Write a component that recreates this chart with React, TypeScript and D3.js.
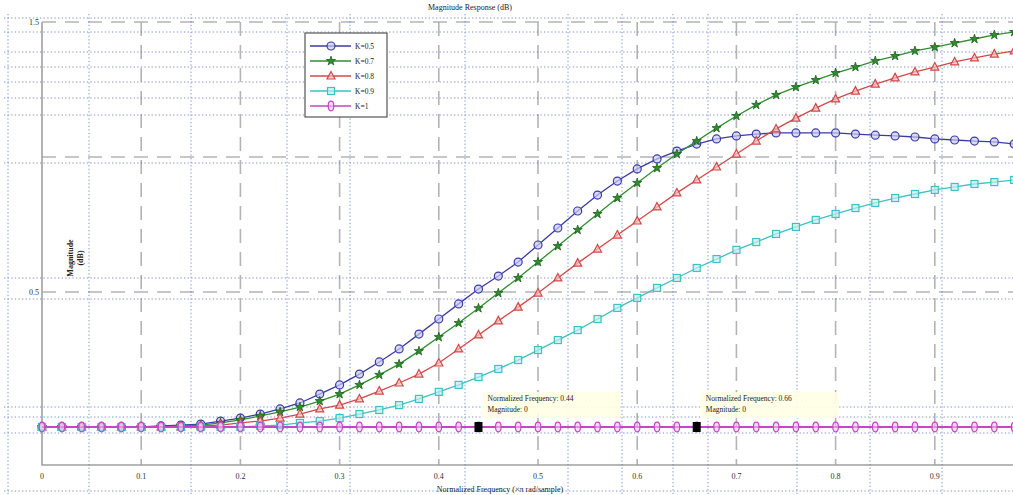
import React, { useRef, useEffect } from 'react';
import * as d3 from 'd3';

// normalized frequency, step 0.02
const freq: number[] = d3.range(0, 51).map(i => +(i * 0.02).toFixed(2));

const series = ['K=0.5', 'K=0.7', 'K=0.8', 'K=0.9', 'K=1'];

const magK05 = [0, 0, 0, 0, 0, 0, 0.004, 0.007, 0.011, 0.022, 0.033, 0.048, 0.067, 0.089, 0.122, 0.156, 0.196, 0.241, 0.289, 0.344, 0.4, 0.456, 0.511, 0.559, 0.611, 0.674, 0.737, 0.8, 0.859, 0.911, 0.956, 0.993, 1.022, 1.048, 1.067, 1.078, 1.085, 1.089, 1.089, 1.089, 1.089, 1.085, 1.081, 1.078, 1.074, 1.067, 1.063, 1.059, 1.056, 1.048, 1.044];
const magK07 = [0, 0, 0, 0, 0, 0, 0, 0.004, 0.007, 0.015, 0.026, 0.041, 0.056, 0.074, 0.096, 0.122, 0.156, 0.193, 0.233, 0.281, 0.333, 0.385, 0.44, 0.496, 0.552, 0.611, 0.67, 0.73, 0.789, 0.848, 0.904, 0.959, 1.011, 1.059, 1.107, 1.152, 1.193, 1.23, 1.259, 1.285, 1.311, 1.333, 1.356, 1.374, 1.393, 1.407, 1.422, 1.437, 1.452, 1.463, 1.47];
const magK08 = [0, 0, 0, 0, 0, 0, 0, 0, 0.004, 0.007, 0.015, 0.022, 0.033, 0.048, 0.067, 0.081, 0.104, 0.133, 0.163, 0.196, 0.237, 0.289, 0.341, 0.393, 0.444, 0.496, 0.552, 0.607, 0.659, 0.711, 0.763, 0.815, 0.867, 0.915, 0.963, 1.011, 1.059, 1.104, 1.144, 1.181, 1.215, 1.244, 1.27, 1.293, 1.315, 1.333, 1.352, 1.367, 1.381, 1.393, 1.411];
const magK09 = [0, 0, 0, 0, 0, 0, 0, 0, 0, 0, 0, 0.004, 0.007, 0.015, 0.022, 0.033, 0.048, 0.063, 0.081, 0.104, 0.13, 0.156, 0.185, 0.215, 0.248, 0.285, 0.322, 0.359, 0.4, 0.441, 0.478, 0.515, 0.552, 0.589, 0.622, 0.656, 0.685, 0.715, 0.741, 0.767, 0.789, 0.811, 0.83, 0.848, 0.863, 0.878, 0.889, 0.9, 0.907, 0.915, 0.919];
const magK1 = freq.map(() => 0);

const allMags = [magK05, magK07, magK08, magK09, magK1];
const colors = ['#3b3ba6', '#2f8f2f', '#d24848', '#3cc2c2', '#c446c4'];
const fills = ['#c9c9ee', '#2f8f2f', '#f3c2c2', '#c4eded', '#efc6ef'];
const symbols = ['circle', 'star', 'triangle', 'square', 'diamond'];

const xTicks = [0, 0.1, 0.2, 0.3, 0.4, 0.5, 0.6, 0.7, 0.8, 0.9];
const yGrid = [0.5, 1, 1.5];
const yTickLabels = [{ v: 1.5, t: '1.5' }, { v: 0.5, t: '0.5' }];

const tipFreqs = [0.44, 0.66];

// faint layout overlay lines seen in the picture
const overlayH = [18, 32, 52, 67, 82, 98, 115, 163, 278, 299, 407, 417, 433, 491];
const overlayV = [8, 89, 191, 287, 350, 465, 568, 622, 673, 708, 797, 870, 942];

const W = 1013;
const H = 495;

const drawMarker = (g: any, type: string, cx: number, cy: number, stroke: string, fill: string) => {
  if (type === 'circle') {
    g.append('circle').attr('cx', cx).attr('cy', cy).attr('r', 4)
      .attr('fill', fill).attr('fill-opacity', 0.7).attr('stroke', stroke).attr('stroke-width', 1.2);
  } else if (type === 'star') {
    const p = d3.symbol().type(d3.symbolStar).size(26)();
    g.append('path').attr('d', p).attr('transform', `translate(${cx},${cy})`)
      .attr('fill', fill).attr('stroke', '#1d5e1d').attr('stroke-width', 0.8);
  } else if (type === 'triangle') {
    g.append('path').attr('d', `M${cx},${cy - 4.5}L${cx + 4},${cy + 3}L${cx - 4},${cy + 3}Z`)
      .attr('fill', fill).attr('fill-opacity', 0.7).attr('stroke', stroke).attr('stroke-width', 1.2);
  } else if (type === 'square') {
    g.append('rect').attr('x', cx - 3.5).attr('y', cy - 3.5).attr('width', 7).attr('height', 7)
      .attr('fill', fill).attr('fill-opacity', 0.7).attr('stroke', stroke).attr('stroke-width', 1.2);
  } else {
    g.append('ellipse').attr('cx', cx).attr('cy', cy).attr('rx', 2.8).attr('ry', 4.8)
      .attr('fill', fill).attr('fill-opacity', 0.6).attr('stroke', stroke).attr('stroke-width', 1.2);
  }
};

const MagnitudeChart = () => {
  const svgRef = useRef<SVGSVGElement>(null);

  useEffect(() => {
    const svg = d3.select(svgRef.current);
    svg.selectAll('*').remove();

    const x = d3.scaleLinear().domain([0, 1]).range([42, 1034]);
    const y = d3.scaleLinear().domain([0, 1.5]).range([427, 22]);
    const top = y(1.5);
    const bottom = 465;
    const left = x(0);

    svg.append('rect').attr('width', W).attr('height', H).attr('fill', '#ffffff');

    // dashed gray grid
    const grid = svg.append('g').attr('stroke', '#b4b4b4').attr('stroke-width', 1.6)
      .attr('stroke-dasharray', '14,9').attr('fill', 'none');
    xTicks.filter(d => d > 0).forEach(d => {
      grid.append('line').attr('x1', x(d)).attr('x2', x(d)).attr('y1', top).attr('y2', bottom);
    });
    yGrid.forEach(d => {
      grid.append('line').attr('x1', left).attr('x2', W).attr('y1', y(d)).attr('y2', y(d));
    });

    // frame
    svg.append('path')
      .attr('d', `M${left},${top}V${bottom}H${W}`)
      .attr('fill', 'none').attr('stroke', '#a0a0a0').attr('stroke-width', 1.6);

    // faint dotted overlay
    const ov = svg.append('g').attr('stroke', '#5f78c4').attr('stroke-width', 1)
      .attr('stroke-dasharray', '1.3,2.3').attr('opacity', 0.8);
    overlayH.forEach(d => ov.append('line').attr('x1', 4).attr('x2', W).attr('y1', d).attr('y2', d));
    overlayV.forEach(d => ov.append('line').attr('x1', d).attr('x2', d).attr('y1', 14).attr('y2', 494));

    // tick labels
    const font = 'Liberation Serif, serif';
    svg.append('g').selectAll('text').data(xTicks).join('text')
      .attr('x', d => x(d)).attr('y', 479).attr('text-anchor', 'middle')
      .attr('font-family', font).attr('font-size', 8).attr('fill', '#333')
      .text(d => String(d));
    svg.append('g').selectAll('text').data(yTickLabels).join('text')
      .attr('x', 39).attr('y', d => y(d.v) + 3).attr('text-anchor', 'end')
      .attr('font-family', font).attr('font-size', 8).attr('fill', '#333')
      .text(d => d.t);

    // title and axis labels
    svg.append('text').attr('x', 470).attr('y', 10).attr('text-anchor', 'middle')
      .attr('font-family', font).attr('font-size', 8).attr('fill', '#222')
      .text('Magnitude Response (dB)');
    svg.append('text').attr('x', 500).attr('y', 492).attr('text-anchor', 'middle')
      .attr('font-family', font).attr('font-size', 8).attr('fill', '#222')
      .text('Normalized Frequency (\u00d7\u03c0 rad/sample)');
    const yl = svg.append('g').attr('transform', 'translate(73,258) rotate(-90)');
    yl.append('text').attr('text-anchor', 'middle').attr('font-family', font)
      .attr('font-size', 8).attr('font-weight', 'bold').attr('fill', '#222').text('Magnitude');
    yl.append('text').attr('y', 10).attr('text-anchor', 'middle').attr('font-family', font)
      .attr('font-size', 8).attr('font-weight', 'bold').attr('fill', '#222').text('(dB)');

    // curves
    const line = d3.line<number>().x((d, i) => x(freq[i])).y(d => y(d));
    allMags.forEach((mag, s) => {
      const g = svg.append('g');
      g.append('path').attr('d', line(mag)).attr('fill', 'none')
        .attr('stroke', colors[s]).attr('stroke-width', s === 4 ? 1.8 : 1.3);
      mag.forEach((v, i) => drawMarker(g, symbols[s], x(freq[i]), y(v), colors[s], fills[s]));
    });

    // data tips
    tipFreqs.forEach(f => {
      const cx = x(f);
      const tg = svg.append('g');
      tg.append('rect').attr('x', cx + 4).attr('y', 392).attr('width', 138).attr('height', 26)
        .attr('fill', '#ffffe6').attr('opacity', 0.9);
      tg.append('text').attr('x', cx + 9).attr('y', 401).attr('font-family', font)
        .attr('font-size', 7.5).attr('fill', '#222').text(`Normalized Frequency: ${f}`);
      tg.append('text').attr('x', cx + 9).attr('y', 412).attr('font-family', font)
        .attr('font-size', 7.5).attr('fill', '#222').text('Magnitude: 0');
      tg.append('rect').attr('x', cx - 4).attr('y', y(0) - 5).attr('width', 8).attr('height', 10)
        .attr('fill', '#000');
    });

    // legend
    const lg = svg.append('g').attr('transform', 'translate(305,33)');
    lg.append('rect').attr('width', 82).attr('height', 84).attr('fill', '#fff')
      .attr('stroke', '#555').attr('stroke-width', 1.2);
    series.forEach((name, s) => {
      const ly = 13 + s * 15;
      lg.append('line').attr('x1', 5).attr('x2', 46).attr('y1', ly).attr('y2', ly)
        .attr('stroke', colors[s]).attr('stroke-width', 1.3);
      drawMarker(lg, symbols[s], 26, ly, colors[s], fills[s]);
      lg.append('text').attr('x', 50).attr('y', ly + 3).attr('font-family', font)
        .attr('font-size', 7.5).attr('fill', '#222').text(name);
    });
  }, []);

  return (
    <svg ref={svgRef} width={W} height={H}
      style={{ position: 'absolute', left: 0, top: 0, display: 'block' }} />
  );
};

export default function App() {
  return <MagnitudeChart />;
}
